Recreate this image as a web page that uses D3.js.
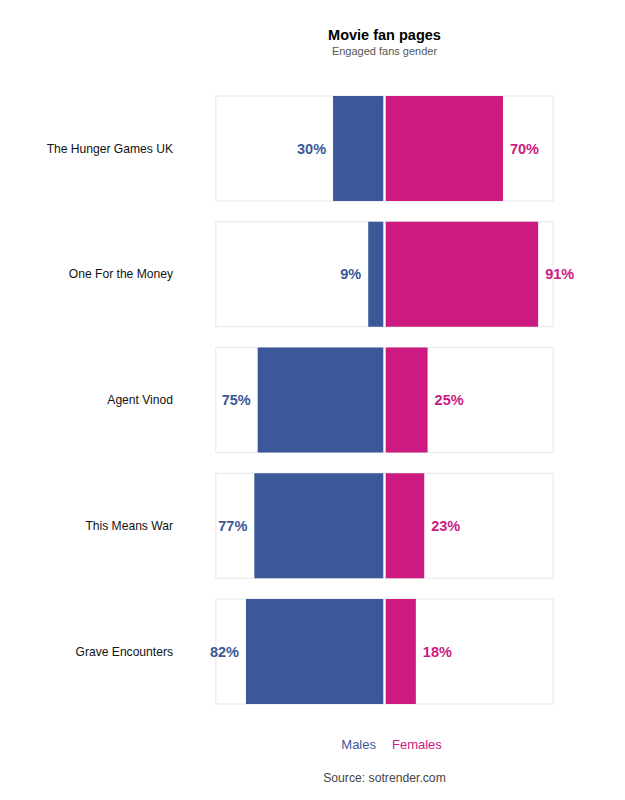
<!DOCTYPE html>
<html><head><meta charset="utf-8">
<script src="https://cdn.jsdelivr.net/npm/d3@7"></script>
<style>body{margin:0;background:#fff;font-family:"Liberation Sans",Arial,sans-serif;}</style>
</head><body><svg id="c" width="625" height="800"></svg>
<script>
const categories = ["The Hunger Games UK","One For the Money","Agent Vinod","This Means War","Grave Encounters"];
const males = [30, 9, 75, 77, 82];
const females = [70, 91, 25, 23, 18];
const seriesNames = ["Males","Females"];
const colors = {Males:"#3b5998", Females:"#cc1a80"};

const svg = d3.select("#c");
const font = "'Liberation Sans', Arial, sans-serif";
const cx = 384.5;
const gap = 1.2;
const half = 167.5;

const y = d3.scaleBand().domain(categories).range([96, 704]).paddingInner(0.165).paddingOuter(0);
const xM = d3.scaleLinear().domain([0,100]).range([cx-gap, cx-gap-half]);
const xF = d3.scaleLinear().domain([0,100]).range([cx+gap, cx+gap+half]);

// panels
svg.selectAll("rect.panel").data(categories).join("rect")
  .attr("class","panel")
  .attr("x", xM(100)).attr("y", d=>y(d))
  .attr("width", xF(100)-xM(100)).attr("height", y.bandwidth())
  .attr("fill","#fff").attr("stroke","#ececec").attr("stroke-width",1.2);

// bars
svg.selectAll("rect.m").data(categories).join("rect")
  .attr("class","m")
  .attr("x",(d,i)=>xM(males[i])).attr("y",d=>y(d))
  .attr("width",(d,i)=>xM(0)-xM(males[i])).attr("height",y.bandwidth())
  .attr("fill",colors.Males);
svg.selectAll("rect.f").data(categories).join("rect")
  .attr("class","f")
  .attr("x",xF(0)).attr("y",d=>y(d))
  .attr("width",(d,i)=>xF(females[i])-xF(0)).attr("height",y.bandwidth())
  .attr("fill",colors.Females);

// value labels
svg.selectAll("text.ml").data(categories).join("text")
  .attr("class","ml")
  .attr("x",(d,i)=>xM(males[i])-7).attr("y",d=>y(d)+y.bandwidth()/2)
  .attr("dy","0.35em").attr("text-anchor","end")
  .attr("font-family",font).attr("font-weight","bold").attr("font-size",14.5)
  .attr("fill",colors.Males).text((d,i)=>males[i]+"%");
svg.selectAll("text.fl").data(categories).join("text")
  .attr("class","fl")
  .attr("x",(d,i)=>xF(females[i])+7).attr("y",d=>y(d)+y.bandwidth()/2)
  .attr("dy","0.35em").attr("text-anchor","start")
  .attr("font-family",font).attr("font-weight","bold").attr("font-size",14.5)
  .attr("fill",colors.Females).text((d,i)=>females[i]+"%");

// category labels
svg.selectAll("text.cat").data(categories).join("text")
  .attr("class","cat")
  .attr("x",173).attr("y",d=>y(d)+y.bandwidth()/2)
  .attr("dy","0.35em").attr("text-anchor","end")
  .attr("font-family",font).attr("font-size",12.1).attr("fill","#111")
  .text(d=>d);

// title
svg.append("text").attr("x",cx).attr("y",40).attr("text-anchor","middle")
  .attr("font-family",font).attr("font-weight","bold").attr("font-size",14.5).attr("fill","#000")
  .text("Movie fan pages");
svg.append("text").attr("x",cx).attr("y",54.5).attr("text-anchor","middle")
  .attr("font-family",font).attr("font-size",11).attr("fill","#555")
  .text("Engaged fans gender");

// legend
svg.append("text").attr("x",376).attr("y",749).attr("text-anchor","end")
  .attr("font-family",font).attr("font-size",13).attr("fill",colors.Males).text(seriesNames[0]);
svg.append("text").attr("x",392).attr("y",749).attr("text-anchor","start")
  .attr("font-family",font).attr("font-size",13).attr("fill",colors.Females).text(seriesNames[1]);

// source
svg.append("text").attr("x",cx).attr("y",782).attr("text-anchor","middle")
  .attr("font-family",font).attr("font-size",12.2).attr("fill","#444")
  .text("Source: sotrender.com");
</script></body></html>
